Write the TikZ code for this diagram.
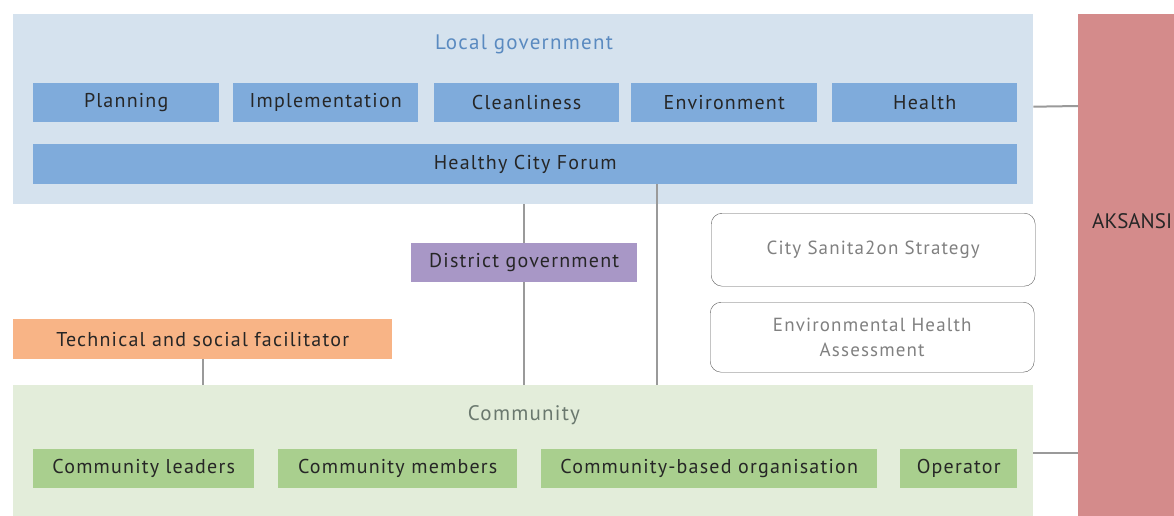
\documentclass[tikz,border=0pt]{standalone}
\usepackage{fontspec}
\setmainfont{PT Sans}
\newfontfamily\boxfont[LetterSpace=6]{PT Sans}
\definecolor{govpanel}{HTML}{D5E2EE}
\definecolor{govunit}{HTML}{7FABDB}
\definecolor{govtext}{HTML}{5A8AC0}
\definecolor{distfill}{HTML}{A897C6}
\definecolor{facfill}{HTML}{F8B486}
\definecolor{commpanel}{HTML}{E3EDDA}
\definecolor{communit}{HTML}{A9CF8E}
\definecolor{commtext}{HTML}{6A786E}
\definecolor{aksfill}{HTML}{D48B8B}
\definecolor{linkgray}{HTML}{9A9A9A}
\tikzset{
  panel/.style={anchor=north west, inner sep=0pt},
  unit/.style={anchor=north west, inner sep=0pt, minimum height=39pt, text=black!85,
    font=\boxfont\fontsize{20}{22}\selectfont},
  plan/.style={draw=black!65, rounded corners=11pt, anchor=north west, inner sep=0pt,
    minimum width=324pt, align=center, text=black!50, font=\boxfont\fontsize{19}{25}\selectfont},
  link/.style={draw=linkgray, line width=2pt}
}
\begin{document}
\begin{tikzpicture}[x=1pt,y=-1pt]
\useasboundingbox (0,0) rectangle (1174,515);
% local government and its units
\node[panel, fill=govpanel, minimum width=1020pt, minimum height=190pt] (lgov) at (13,14) {};
\node[text=govtext, font=\boxfont\fontsize{21}{24}\selectfont] (lgovlabel) at (524,44) {Local government};
\node[unit, fill=govunit, minimum width=186pt] (planning) at (33,83) {Planning};
\node[unit, fill=govunit, minimum width=185pt] (implement) at (233,83) {Implementation};
\node[unit, fill=govunit, minimum width=185pt] (clean) at (434,83) {Cleanliness};
\node[unit, fill=govunit, minimum width=186pt] (environ) at (631,83) {Environment};
\node[unit, fill=govunit, minimum width=185pt] (health) at (832,83) {Health};
\node[unit, fill=govunit, minimum width=984pt, minimum height=40pt] (forum) at (33,144) {Healthy City Forum};
% community and its members
\node[panel, fill=commpanel, minimum width=1020pt, minimum height=131pt] (comm) at (13,385) {};
\node[text=commtext, font=\boxfont\fontsize{21}{24}\selectfont] (commlabel) at (524,415) {Community};
\node[unit, fill=communit, minimum width=221pt] (leaders) at (33,449) {Community leaders};
\node[unit, fill=communit, minimum width=239pt] (members) at (278,449) {Community members};
\node[unit, fill=communit, minimum width=336pt] (cbo) at (541,449) {Community-based organisation};
\node[unit, fill=communit, minimum width=117pt] (operator) at (900,449) {Operator};
% in between
\node[unit, fill=distfill, minimum width=226pt] (district) at (411,243) {District government};
\node[unit, fill=facfill, minimum width=379pt, minimum height=40pt] (facil) at (13,319) {Technical and social facilitator};
\node[plan, minimum height=73pt] (strategy) at (711,213) {City Sanita2on Strategy};
\node[plan, minimum height=70pt] (ehra) at (710,302) {Environmental Health\\Assessment};
% AKSANSI
\node[panel, fill=aksfill, minimum width=100pt, minimum height=502pt] (aks) at (1078,14) {};
\node[anchor=west, inner sep=0pt, text=black!85, font=\fontsize{21}{24}\selectfont] (akslabel) at (1092,221) {AKSANSI};
% links
\coordinate (tap) at (657,184);
\coordinate (lowtap) at (1033,453);
\draw[link] (lgov.south -| district.north) -- (district.north);
\draw[link] (district.south) -- (district.south |- comm.north);
\draw[link] (tap) -- (tap |- comm.north);
\draw[link] (facil.south) -- (facil.south |- comm.north);
\draw[link] (lgov.east |- health.east) ++(0,4) -- (aks.west |- 0,106);
\draw[link] (lowtap) -- (aks.west |- lowtap);
\end{tikzpicture}
\end{document}
